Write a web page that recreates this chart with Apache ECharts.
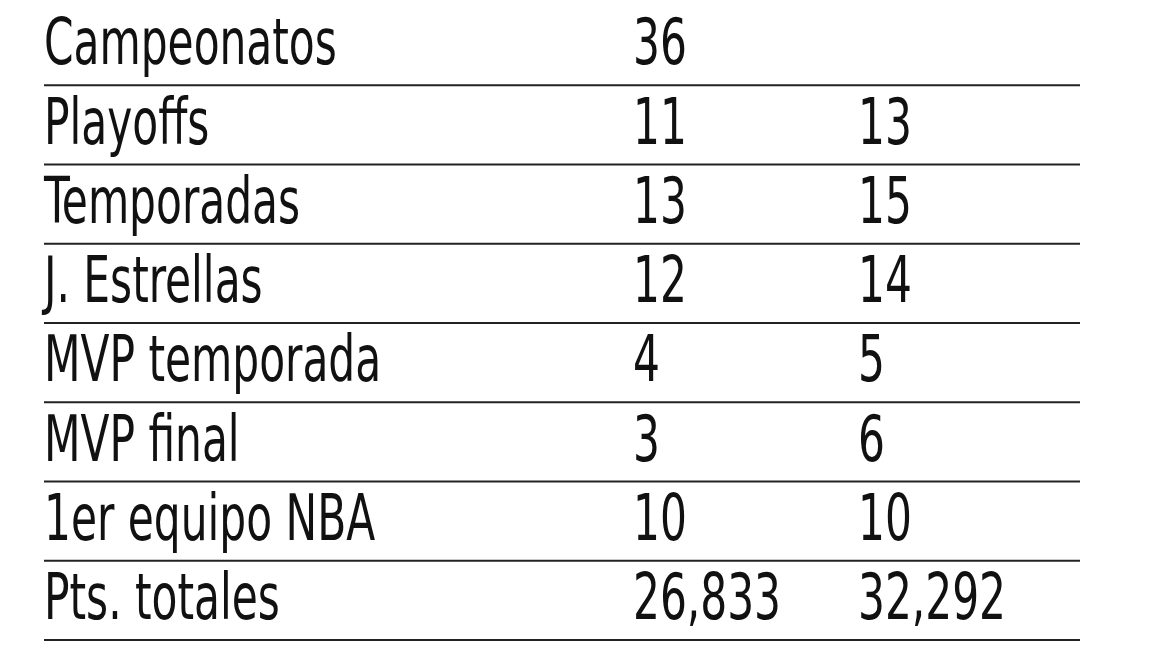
<!DOCTYPE html>
<html>
<head>
<meta charset="utf-8">
<script src="https://cdn.jsdelivr.net/npm/echarts@6/dist/echarts.min.js"></script>
<style>html,body{margin:0;background:#fff}#main{width:1152px;height:648px}</style>
</head>
<body>
<div id="main"></div>
<script>
const labels = ['Campeonatos', 'Playoffs', 'Temporadas', 'J. Estrellas', 'MVP temporada', 'MVP final', '1er equipo NBA', 'Pts. totales'];
const col1 = ['36', '11', '13', '12', '4', '3', '10', '26,833'];
const col2 = ['', '13', '15', '14', '5', '6', '10', '32,292'];

// column positions in pixels
const colX = [44, 633, 858];
const lineX = [44, 1080];
const font = '"DejaVu Sans Condensed", sans-serif';

const chartDom = document.getElementById('main');
const myChart = echarts.init(chartDom);
const option = {
    animation: false,
    grid: { left: 0, right: 0, top: 6, bottom: 8 },
    xAxis: { type: 'value', min: 0, max: 1152, show: false },
    yAxis: { type: 'value', min: -0.5, max: labels.length - 0.5, inverse: true, show: false },
    series: [{
        type: 'custom',
        data: labels.map((l, i) => [i]),
        renderItem(params, api) {
            const i = api.value(0);
            const yc = api.coord([0, i])[1];
            const yl = api.coord([0, i + 0.5])[1];
            const texts = [labels[i], col1[i], col2[i]];
            const children = texts.map((t, k) => ({
                type: 'text',
                x: colX[k], y: yc + 2,
                scaleX: 0.735,
                style: {
                    text: t, x: 0, y: 0,
                    verticalAlign: 'middle', align: 'left',
                    font: '64px ' + font, fill: '#111'
                }
            }));
            children.push({
                type: 'line',
                shape: { x1: lineX[0], y1: yl, x2: lineX[1], y2: yl },
                style: { stroke: '#222', lineWidth: 2 }
            });
            return { type: 'group', children };
        }
    }]
};
option && myChart.setOption(option);
window.addEventListener('resize', () => myChart.resize());
</script>
</body>
</html>
